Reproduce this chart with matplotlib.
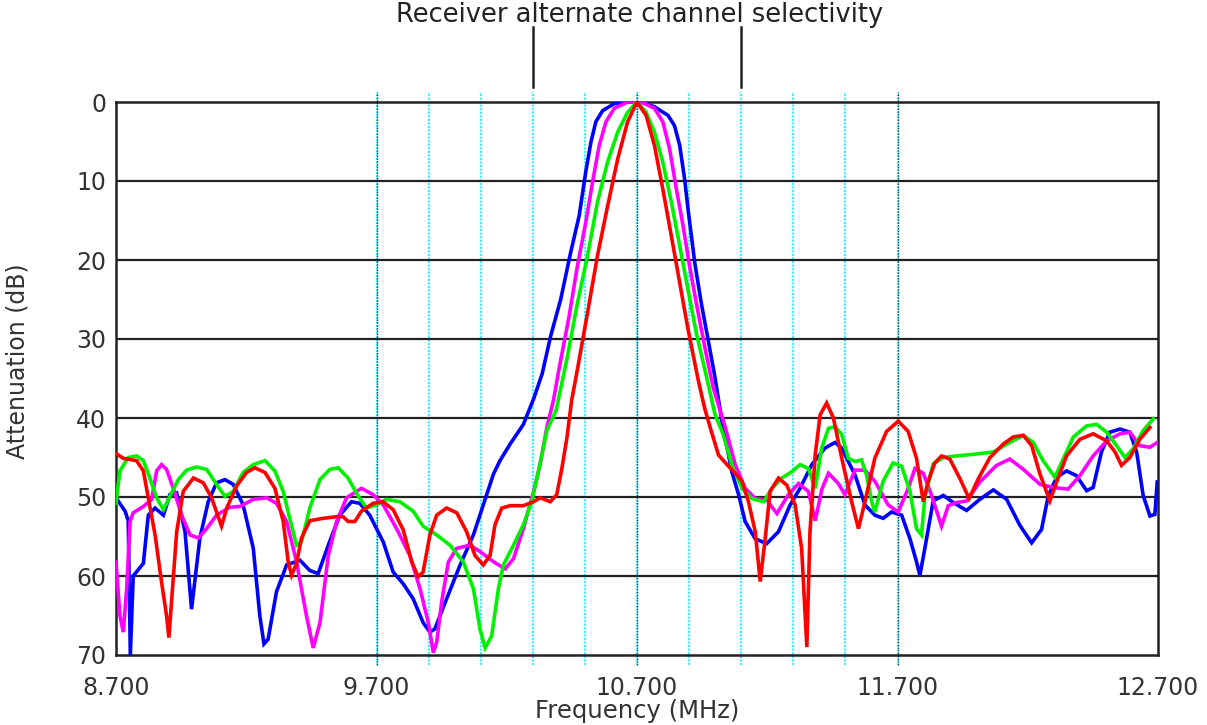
import numpy as np
import matplotlib as mpl
import matplotlib.pyplot as plt
from matplotlib.transforms import blended_transform_factory

plt.rcParams['font.family'] = ['DejaVu Sans']

# Filter response traces, frequency in MHz, attenuation in dB
blue_f = [8.700, 8.735, 8.747, 8.755, 8.766, 8.805, 8.824, 8.850, 8.882, 8.907,
          8.933, 8.965, 8.990, 9.022, 9.054, 9.086, 9.118, 9.150, 9.188, 9.227,
          9.252, 9.268, 9.284, 9.316, 9.355, 9.406, 9.444, 9.476, 9.515, 9.559,
          9.604, 9.636, 9.674, 9.726, 9.764, 9.803, 9.841, 9.879, 9.905, 9.924,
          9.969, 10.021, 10.072, 10.110, 10.149, 10.174, 10.213, 10.264, 10.304, 10.336,
          10.368, 10.407, 10.445, 10.478, 10.503, 10.523, 10.542, 10.568, 10.613, 10.664,
          10.716, 10.767, 10.819, 10.844, 10.864, 10.883, 10.896, 10.909, 10.922, 10.947,
          10.973, 10.999, 11.026, 11.064, 11.090, 11.115, 11.154, 11.198, 11.243, 11.288,
          11.326, 11.371, 11.422, 11.460, 11.486, 11.511, 11.537, 11.575, 11.613, 11.645,
          11.677, 11.716, 11.748, 11.773, 11.786, 11.805, 11.837, 11.876, 11.914, 11.965,
          12.016, 12.068, 12.119, 12.170, 12.215, 12.253, 12.279, 12.311, 12.349, 12.387,
          12.426, 12.451, 12.483, 12.515, 12.554, 12.592, 12.618, 12.643, 12.669, 12.688,
          12.697]
blue_db = [50.1, 51.8, 53.0, 70.0, 60.0, 58.4, 52.3, 51.4, 52.3, 49.7,
           49.5, 54.4, 64.2, 55.2, 50.6, 48.2, 47.8, 48.4, 51.0, 56.5,
           65.0, 68.6, 68.0, 62.0, 58.6, 58.0, 59.3, 59.7, 56.1, 52.3,
           50.6, 50.8, 52.3, 55.7, 59.5, 61.0, 62.9, 65.9, 67.1, 66.7,
           62.9, 58.6, 54.8, 51.0, 47.1, 45.4, 43.3, 40.8, 37.5, 34.4,
           29.7, 25.0, 19.1, 14.4, 8.9, 5.1, 2.5, 1.1, 0.2, 0.0,
           0.0, 0.6, 1.7, 3.0, 5.5, 9.8, 13.6, 17.0, 20.4, 25.5,
           30.1, 34.8, 40.4, 46.8, 49.7, 53.1, 55.3, 55.9, 54.4, 51.0,
           48.9, 45.9, 43.8, 43.1, 43.8, 45.5, 47.2, 51.0, 52.3, 52.7,
           51.9, 52.3, 55.3, 58.2, 59.9, 56.5, 50.5, 49.8, 50.7, 51.7,
           50.3, 49.1, 50.3, 53.6, 55.8, 54.1, 49.8, 47.5, 46.7, 47.3,
           49.2, 48.8, 44.3, 41.8, 41.4, 41.8, 44.3, 49.8, 52.4, 52.2,
           48.1]

magenta_f = [8.700, 8.715, 8.728, 8.741, 8.754, 8.766, 8.805, 8.837, 8.856, 8.875,
             8.894, 8.920, 8.952, 8.984, 9.016, 9.048, 9.086, 9.137, 9.176, 9.227,
             9.278, 9.316, 9.355, 9.393, 9.431, 9.457, 9.483, 9.515, 9.547, 9.585,
             9.642, 9.687, 9.726, 9.777, 9.828, 9.867, 9.899, 9.918, 9.931, 9.950,
             9.976, 10.008, 10.059, 10.097, 10.149, 10.194, 10.226, 10.264, 10.303, 10.328,
             10.354, 10.379, 10.400, 10.439, 10.471, 10.503, 10.529, 10.555, 10.581, 10.613,
             10.664, 10.716, 10.767, 10.799, 10.825, 10.851, 10.877, 10.902, 10.928, 10.960,
             10.992, 11.039, 11.077, 11.115, 11.154, 11.198, 11.237, 11.281, 11.320, 11.358,
             11.384, 11.410, 11.435, 11.473, 11.498, 11.537, 11.575, 11.613, 11.664, 11.703,
             11.741, 11.767, 11.799, 11.830, 11.869, 11.895, 11.927, 11.965, 12.016, 12.080,
             12.131, 12.183, 12.247, 12.298, 12.355, 12.400, 12.451, 12.503, 12.554, 12.592,
             12.630, 12.669, 12.697]
magenta_db = [58.2, 65.0, 67.1, 61.6, 53.1, 52.0, 51.2, 50.3, 46.7, 45.9,
              46.5, 48.9, 52.3, 54.8, 55.2, 54.0, 52.3, 51.3, 51.2, 50.3,
              50.1, 50.8, 53.1, 58.2, 65.0, 69.1, 65.9, 57.4, 53.1, 50.1,
              48.9, 49.7, 51.0, 54.0, 57.4, 61.6, 65.9, 69.7, 68.4, 63.3,
              58.2, 56.5, 56.1, 56.9, 58.2, 59.1, 57.8, 54.0, 49.3, 45.9,
              41.2, 37.8, 33.9, 27.2, 20.8, 15.3, 10.2, 5.5, 2.5, 0.8,
              0.0, 0.0, 0.8, 2.5, 5.9, 11.0, 15.7, 20.8, 25.5, 31.0,
              36.1, 41.2, 45.9, 48.9, 50.2, 50.4, 52.1, 49.7, 48.3, 49.3,
              53.0, 49.0, 47.0, 48.3, 49.7, 46.6, 46.6, 48.0, 51.0, 51.9,
              48.9, 46.4, 47.0, 49.7, 53.7, 51.1, 50.7, 50.5, 48.1, 46.0,
              45.2, 46.5, 48.4, 48.8, 49.0, 47.3, 44.8, 42.9, 42.0, 41.8,
              43.5, 43.7, 43.1]

green_f = [8.700, 8.715, 8.747, 8.779, 8.805, 8.830, 8.856, 8.882, 8.907, 8.939,
           8.971, 9.009, 9.048, 9.086, 9.118, 9.150, 9.188, 9.227, 9.272, 9.310,
           9.342, 9.367, 9.393, 9.412, 9.444, 9.483, 9.521, 9.553, 9.591, 9.630,
           9.662, 9.700, 9.738, 9.790, 9.841, 9.879, 9.931, 9.982, 10.033, 10.072,
           10.097, 10.117, 10.142, 10.168, 10.187, 10.226, 10.264, 10.296, 10.322, 10.354,
           10.390, 10.433, 10.471, 10.510, 10.548, 10.587, 10.626, 10.664, 10.700, 10.735,
           10.767, 10.799, 10.832, 10.864, 10.896, 10.928, 10.967, 10.999, 11.030, 11.064,
           11.103, 11.141, 11.186, 11.218, 11.256, 11.294, 11.326, 11.358, 11.384, 11.409,
           11.435, 11.460, 11.486, 11.511, 11.537, 11.562, 11.581, 11.601, 11.613, 11.645,
           11.683, 11.716, 11.748, 11.773, 11.792, 11.805, 11.837, 11.876, 11.927, 11.991,
           12.068, 12.131, 12.183, 12.221, 12.259, 12.304, 12.336, 12.375, 12.426, 12.464,
           12.503, 12.541, 12.573, 12.605, 12.643, 12.682]
green_db = [50.8, 46.7, 45.0, 44.8, 45.4, 47.6, 50.1, 51.6, 49.9, 47.8,
            46.6, 46.2, 46.5, 48.4, 49.9, 49.3, 46.9, 45.9, 45.4, 46.7,
            49.3, 52.7, 56.1, 55.7, 51.4, 47.8, 46.5, 46.3, 47.6, 49.9,
            51.4, 51.0, 50.3, 50.6, 51.8, 53.7, 54.8, 56.1, 58.2, 61.6,
            66.7, 69.1, 67.6, 61.6, 58.6, 56.1, 53.5, 50.6, 46.7, 41.6,
            39.0, 32.2, 25.5, 19.5, 12.7, 7.6, 3.8, 1.3, 0.0, 1.3,
            3.8, 7.6, 12.7, 18.2, 23.8, 29.3, 34.8, 39.5, 42.0, 45.9,
            48.9, 50.2, 50.6, 48.9, 47.6, 46.8, 45.9, 46.4, 48.9, 43.8,
            41.3, 41.1, 42.1, 45.1, 45.5, 45.3, 47.2, 50.6, 51.9, 48.0,
            45.7, 46.1, 49.3, 54.0, 54.8, 50.0, 45.8, 45.0, 44.8, 44.6,
            44.3, 43.1, 42.2, 43.1, 45.4, 47.5, 45.2, 42.4, 41.0, 40.8,
            41.8, 43.5, 45.0, 43.9, 41.6, 40.1]

red_f = [8.700, 8.728, 8.779, 8.805, 8.824, 8.850, 8.875, 8.894, 8.903, 8.914,
         8.933, 8.958, 8.997, 9.035, 9.067, 9.099, 9.105, 9.125, 9.163, 9.201,
         9.233, 9.272, 9.310, 9.342, 9.361, 9.374, 9.393, 9.412, 9.444, 9.495,
         9.547, 9.572, 9.591, 9.617, 9.642, 9.687, 9.725, 9.764, 9.803, 9.835,
         9.860, 9.879, 9.905, 9.931, 9.969, 10.008, 10.046, 10.078, 10.110, 10.136,
         10.155, 10.181, 10.213, 10.264, 10.303, 10.328, 10.367, 10.392, 10.412, 10.431,
         10.449, 10.471, 10.510, 10.548, 10.587, 10.626, 10.664, 10.700, 10.735, 10.767,
         10.799, 10.832, 10.864, 10.896, 10.935, 10.960, 10.981, 11.013, 11.051, 11.077,
         11.103, 11.128, 11.154, 11.173, 11.192, 11.211, 11.243, 11.275, 11.307, 11.332,
         11.352, 11.364, 11.384, 11.403, 11.428, 11.454, 11.486, 11.524, 11.550, 11.575,
         11.613, 11.658, 11.703, 11.741, 11.773, 11.799, 11.818, 11.843, 11.869, 11.901,
         11.940, 11.975, 12.010, 12.055, 12.106, 12.144, 12.183, 12.215, 12.247, 12.285,
         12.311, 12.349, 12.400, 12.451, 12.503, 12.535, 12.560, 12.592, 12.630, 12.669]
red_db = [44.5, 45.1, 45.4, 46.7, 50.1, 54.8, 60.8, 65.0, 67.8, 62.9,
          54.4, 49.3, 47.6, 48.2, 50.1, 53.1, 53.7, 51.4, 48.6, 46.9,
          46.3, 46.9, 48.9, 53.1, 58.2, 59.9, 58.4, 55.2, 53.0, 52.7,
          52.5, 52.5, 53.1, 53.1, 51.8, 50.8, 50.6, 51.6, 54.2, 58.2,
          60.1, 59.5, 54.8, 52.3, 51.4, 52.0, 54.4, 57.4, 58.6, 57.4,
          53.5, 51.4, 51.1, 51.1, 50.6, 50.1, 50.6, 49.7, 46.3, 42.5,
          37.8, 33.9, 26.7, 19.5, 13.2, 7.2, 2.5, 0.0, 1.7, 5.5,
          11.0, 17.0, 22.9, 28.8, 35.2, 38.8, 41.2, 44.7, 46.1, 47.0,
          48.0, 50.6, 54.4, 60.7, 55.3, 49.3, 47.6, 48.5, 51.0, 56.5,
          69.0, 54.4, 44.7, 39.6, 38.1, 40.0, 45.1, 50.6, 54.0, 50.6,
          45.1, 41.7, 40.4, 41.7, 45.1, 50.6, 48.0, 45.7, 44.8, 45.2,
          47.7, 50.2, 47.7, 45.0, 43.3, 42.4, 42.2, 43.5, 47.1, 50.5,
          48.1, 44.8, 42.7, 42.0, 42.9, 44.3, 46.0, 45.0, 42.7, 41.2]

traces = [
    (blue_f, blue_db, '#0000ff'),
    (magenta_f, magenta_db, '#ff00ff'),
    (green_f, green_db, '#00f000'),
    (red_f, red_db, '#ff0000'),
]

x_ticks = [8.7, 9.7, 10.7, 11.7, 12.7]
x_tick_labels = ['8.700', '9.700', '10.700', '11.700', '12.700']
y_ticks = [0, 10, 20, 30, 40, 50, 60, 70]
minor_lines = [9.9, 10.1, 10.3, 10.5, 10.9, 11.1, 11.3, 11.5]
major_lines = [9.7, 10.7, 11.7]
# edges of the alternate channel, marked above the plot
channel_marks = [10.3, 11.1]

W, H = 1207, 725
fig = plt.figure(figsize=(W / 100, H / 100), dpi=100)
ax = fig.add_axes([116 / W, 1 - 655 / H, (1158 - 116) / W, (655 - 102) / H])

ax.set_xlim(8.7, 12.7)
ax.set_ylim(70, 0)

# Vertical frequency grid, running a little past the frame
vline = blended_transform_factory(ax.transData, ax.transAxes)
for f in minor_lines + major_lines:
    ax.plot([f, f], [-0.018, 1.018], transform=vline, color='#40f0ff',
            lw=1.6, ls=(0, (1, 0.6)), clip_on=False, zorder=1)
for f in major_lines:
    ax.plot([f, f], [-0.018, 1.018], transform=vline, color='#114444',
            lw=1.0, ls=(0, (1, 1)), clip_on=False, zorder=1.1)
for f in channel_marks:
    ax.plot([f, f], [1.027, 1.136], transform=vline, color='#222222',
            lw=1.8, clip_on=False, zorder=1)

# Horizontal attenuation grid
for db in y_ticks[1:-1]:
    ax.axhline(db, color='#222222', lw=1.6, zorder=1.2)

for f, db, c in traces:
    ax.plot(f, db, color=c, lw=2.6, solid_joinstyle='miter', zorder=3)

for s in ax.spines.values():
    s.set_color('#222222')
    s.set_linewidth(1.8)

ax.set_xticks(x_ticks)
ax.set_xticklabels(x_tick_labels)
ax.set_yticks(y_ticks)
ax.tick_params(length=0, labelsize=17, colors='#333333')
ax.tick_params(axis='x', pad=15)
ax.tick_params(axis='y', pad=7)

fig.text(640 / W, 1 - 15 / H, 'Receiver alternate channel selectivity',
         ha='center', va='center', fontsize=18.5, color='#222222')
fig.text(637 / W, 1 - 711 / H, 'Frequency (MHz)',
         ha='center', va='center', fontsize=17.5, color='#333333')
fig.text(18 / W, 1 - 361 / H, 'Attenuation (dB)', rotation=90,
         ha='center', va='center', fontsize=17, color='#333333')

fig.savefig('out.png', dpi=100)
